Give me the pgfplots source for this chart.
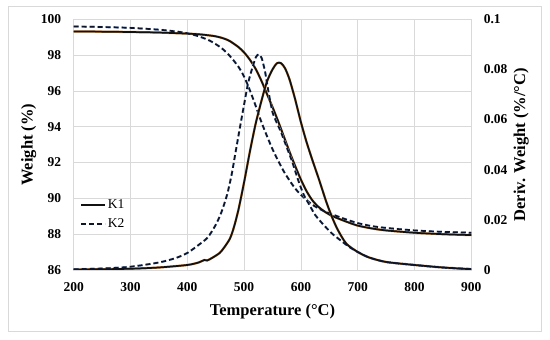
\documentclass[border=0pt]{standalone}
\usepackage{pgfplots}
\pgfplotsset{compat=1.18}
\usepackage{pgfplotstable}
\usepackage{fontspec}
\setmainfont{Liberation Serif}
\definecolor{gridc}{HTML}{D9D9D9}
\definecolor{framec}{HTML}{D9D9D9}
\definecolor{kone}{HTML}{111111}
\definecolor{konefr}{HTML}{C98A4B}
\definecolor{ktwo}{HTML}{0E1528}
\definecolor{ktwofr}{HTML}{A8C0E4}

% K1 weight (%)
\pgfplotstableread{
T W
200 99.32
250 99.31
300 99.29
350 99.26
400 99.20
425 99.15
450 99.05
465 98.92
475 98.78
490 98.45
500 98.15
510 97.75
520 97.25
530 96.60
540 95.85
550 95.10
560 94.30
570 93.45
580 92.60
590 91.80
600 91.05
610 90.40
620 89.90
630 89.55
640 89.30
650 89.10
660 88.95
680 88.70
700 88.48
725 88.32
750 88.21
800 88.08
850 88.00
900 87.95
}\kaw
% K2 weight (%)
\pgfplotstableread{
T W
200 99.60
250 99.57
300 99.52
350 99.42
380 99.32
400 99.22
420 99.05
440 98.80
460 98.40
475 97.95
490 97.35
500 96.80
510 96.05
520 95.20
530 94.30
540 93.50
550 92.75
560 92.10
570 91.50
580 91.00
590 90.55
600 90.20
620 89.65
640 89.30
660 89.05
680 88.82
700 88.62
725 88.45
750 88.35
800 88.21
850 88.13
900 88.08
}\kbw
% K1 derivative weight (%/C)
\pgfplotstableread{
T D
200 0.0002
250 0.0003
300 0.0005
350 0.0010
400 0.0020
420 0.0030
430 0.0040
435 0.0038
445 0.0050
457 0.0068
465 0.0090
475 0.0125
482 0.0170
490 0.0240
500 0.0350
510 0.0470
520 0.0580
530 0.0670
540 0.0750
550 0.0800
558 0.0825
565 0.0825
572 0.0805
580 0.0760
590 0.0680
600 0.0590
610 0.0510
620 0.0440
632 0.0360
645 0.0270
655 0.0210
665 0.0160
680 0.0105
700 0.0072
720 0.0050
750 0.0032
800 0.0020
850 0.0010
900 0.0003
}\kad
% K2 derivative weight (%/C)
\pgfplotstableread{
T D
200 0.0003
250 0.0006
300 0.0013
350 0.0030
380 0.0048
400 0.0068
420 0.0100
436 0.0130
450 0.0180
460 0.0230
470 0.0300
478 0.0380
485 0.0470
492 0.0560
500 0.0660
507 0.0745
515 0.0810
521 0.0850
526 0.0860
531 0.0845
537 0.0790
543 0.0710
550 0.0630
557 0.0590
565 0.0550
575 0.0490
585 0.0430
595 0.0360
605 0.0300
615 0.0260
625 0.0220
640 0.0180
655 0.0145
670 0.0118
685 0.0092
700 0.0072
720 0.0050
750 0.0032
800 0.0020
850 0.0010
900 0.0004
}\kbd

\pgfplotsset{
  base/.style={
    at={(0,0)}, anchor=south west, scale only axis,
    width=397.6pt, height=250.7pt,
    xmin=200, xmax=900,
    major tick length=0pt,
    /pgf/number format/assume math mode=true,
    ticklabel style={font=\bfseries\fontsize{13.5}{15}\selectfont},
    label style={font=\bfseries\fontsize{16.5}{19}\selectfont},
  },
  kones/.style={kone, line width=1.7pt, smooth, tension=0.45},
  koneu/.style={konefr, line width=2.3pt, smooth, tension=0.45, forget plot},
  ktwos/.style={ktwo, line width=1.7pt, smooth, tension=0.45, dash pattern=on 5pt off 3pt},
  ktwou/.style={ktwofr, line width=2.3pt, smooth, tension=0.45, dash pattern=on 5pt off 3pt, forget plot},
}

\begin{document}
\begin{tikzpicture}[x=1pt,y=1pt]
\path[use as bounding box] (-73.7,-70) rectangle (476.3,270);
\draw[framec, line width=0.8pt] (-65.7,-61.7) rectangle (468,264);
\begin{axis}[base,
  ymin=86, ymax=100,
  xtick={200,300,400,500,600,700,800,900},
  ytick={86,88,90,92,94,96,98,100},
  grid=major, grid style={gridc, line width=0.6pt},
  axis line style={gridc, line width=0.6pt},
  yticklabel style={xshift=-9pt},
  xticklabel style={yshift=-9pt},
  xlabel={Temperature (°C)},
  ylabel={Weight (\%)},
  xlabel style={at={(axis description cs:0.5,0)}, anchor=center, yshift=-42pt},
  ylabel style={at={(axis description cs:0,0.5)}, anchor=center, yshift=45pt},
  legend style={at={(rel axis cs:0.016,0.29)}, anchor=north west, draw=none, fill=none,
    font=\fontsize{13.5}{15}\selectfont, row sep=5pt, inner sep=0pt},
  legend cell align=left,
  legend image code/.code={\draw[#1] (0pt,0pt) -- (24pt,0pt);},
]
\addplot[koneu] table[x=T, y=W] {\kaw};
\addplot[ktwou] table[x=T, y=W] {\kbw};
\addplot[kones] table[x=T, y=W] {\kaw};
\addlegendentry{K1}
\addplot[ktwos] table[x=T, y=W] {\kbw};
\addlegendentry{K2}
\end{axis}
\begin{axis}[base,
  ymin=0, ymax=0.1,
  axis x line=none, axis y line*=right,
  axis line style={draw=none},
  ytick={0,0.02,0.04,0.06,0.08,0.1},
  yticklabels={0,0.02,0.04,0.06,0.08,0.1},
  scaled y ticks=false,
  yticklabel style={xshift=9pt},
  ylabel={Deriv. Weight (\%/°C)},
  ylabel style={at={(axis description cs:1,0.5)}, anchor=center, yshift=-50pt},
]
\addplot[koneu] table[x=T, y=D] {\kad};
\addplot[ktwou] table[x=T, y=D] {\kbd};
\addplot[kones, forget plot] table[x=T, y=D] {\kad};
\addplot[ktwos, forget plot] table[x=T, y=D] {\kbd};
\end{axis}
\end{tikzpicture}
\end{document}
